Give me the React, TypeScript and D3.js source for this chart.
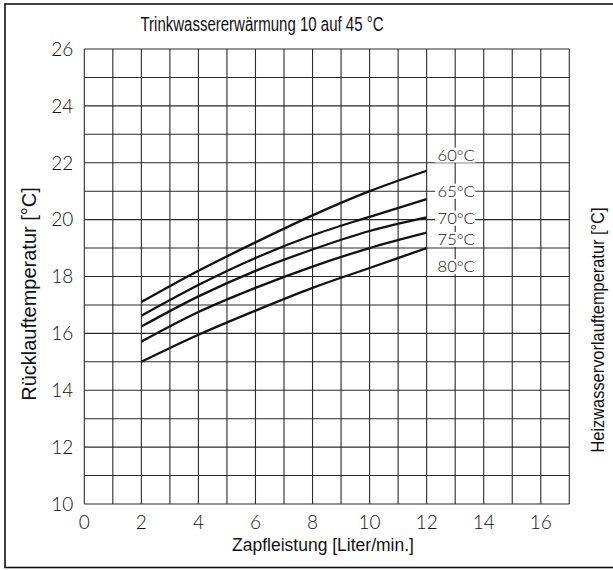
import React from "react";
import * as d3 from "d3";

const xValues = [2, 4, 6, 8, 10, 12];
const seriesNames = ["60°C", "65°C", "70°C", "75°C", "80°C"];
const s60 = [17.1, 18.2, 19.2, 20.15, 21.0, 21.72];
const s65 = [16.62, 17.7, 18.65, 19.45, 20.1, 20.72];
const s70 = [16.24, 17.3, 18.2, 18.95, 19.6, 20.08];
const s75 = [15.71, 16.75, 17.6, 18.35, 19.0, 19.54];
const s80 = [15.0, 15.95, 16.8, 17.6, 18.3, 19.0];
const seriesValues = [s60, s65, s70, s75, s80];
const labelYValues = [22.27, 21.0, 20.05, 19.3, 18.35];
const labelX = 13;
const xTicks = [0, 2, 4, 6, 8, 10, 12, 14, 16];
const yTicks = [10, 12, 14, 16, 18, 20, 22, 24, 26];
const title = "Trinkwassererwärmung 10 auf 45 °C";
const xTitle = "Zapfleistung [Liter/min.]";
const yTitle = "Rücklauftemperatur [°C]";
const y2Title = "Heizwasservorlauftemperatur [°C]";

const W = 613;
const H = 570;
const plot = { left: 84.3, right: 569.3, top: 49, bottom: 504 };

export default function App() {
  const x = d3.scaleLinear().domain([0, 17]).range([plot.left, plot.right]);
  const y = d3.scaleLinear().domain([10, 26]).range([plot.bottom, plot.top]);
  const xGrid = d3.range(0, 18);
  const yGrid = d3.range(10, 27);
  const line = d3
    .line<[number, number]>()
    .x((d) => x(d[0]))
    .y((d) => y(d[1]))
    .curve(d3.curveMonotoneX);
  const thin = "Lato, 'Open Sans', sans-serif";
  const narrow = "'Liberation Sans Narrow', 'Liberation Sans', Arial, sans-serif";

  return (
    <svg
      width={W}
      height={H}
      style={{ position: "absolute", left: 0, top: 0, background: "#fff" }}
    >
      <rect x={0} y={0} width={W} height={H} fill="#fff" />
      <rect x={5} y={4} width={W + 20} height={563.5} fill="none" stroke="#111" strokeWidth={1.6} />
      <text
        x={262}
        y={31}
        textAnchor="middle"
        fontFamily={narrow}
        fontSize={19.5}
        fill="#111"
        textLength={243}
        lengthAdjust="spacingAndGlyphs"
      >
        {title}
      </text>
      {xGrid.map((v) => (
        <line key={"xg" + v} x1={x(v)} x2={x(v)} y1={y(10)} y2={y(26)} stroke="#2a2a2a" strokeWidth={1.1} />
      ))}
      {yGrid.map((v) => (
        <line key={"yg" + v} x1={x(0)} x2={x(17)} y1={y(v)} y2={y(v)} stroke="#2a2a2a" strokeWidth={1.1} />
      ))}
      {seriesValues.map((vals, i) => (
        <path
          key={"s" + i}
          d={line(xValues.map((xv, j) => [xv, vals[j]] as [number, number])) || ""}
          fill="none"
          stroke="#111"
          strokeWidth={2.3}
        />
      ))}
      {seriesNames.map((name, i) => (
        <g key={"l" + i}>
          <rect x={x(labelX) - 20} y={y(labelYValues[i]) - 7.5} width={40} height={15} fill="#fff" />
          <text
            x={x(labelX) + 1}
            y={y(labelYValues[i])}
            dy="0.36em"
            textAnchor="middle"
            fontFamily={thin}
            fontWeight={300}
            fontSize={16.5}
            fill="#111"
          >
            {name}
          </text>
        </g>
      ))}
      {yTicks.map((v) => (
        <text
          key={"yt" + v}
          x={plot.left - 11}
          y={y(v)}
          dy="0.36em"
          textAnchor="end"
          fontFamily={thin}
          fontWeight={300}
          fontSize={19}
          fill="#111"
        >
          {v}
        </text>
      ))}
      {xTicks.map((v) => (
        <text
          key={"xt" + v}
          x={x(v)}
          y={plot.bottom + 25}
          textAnchor="middle"
          fontFamily={thin}
          fontWeight={300}
          fontSize={19}
          fill="#111"
        >
          {v}
        </text>
      ))}
      <text x={323} y={551} textAnchor="middle" fontFamily={narrow} fontSize={17.5} fill="#111">
        {xTitle}
      </text>
      <text
        transform="translate(36,294) rotate(-90)"
        textAnchor="middle"
        fontFamily={narrow}
        fontSize={20}
        fill="#111"
      >
        {yTitle}
      </text>
      <text
        transform="translate(604,330) rotate(-90)"
        textAnchor="middle"
        fontFamily={narrow}
        fontSize={17.5}
        fill="#111"
        textLength={245}
        lengthAdjust="spacingAndGlyphs"
      >
        {y2Title}
      </text>
    </svg>
  );
}
